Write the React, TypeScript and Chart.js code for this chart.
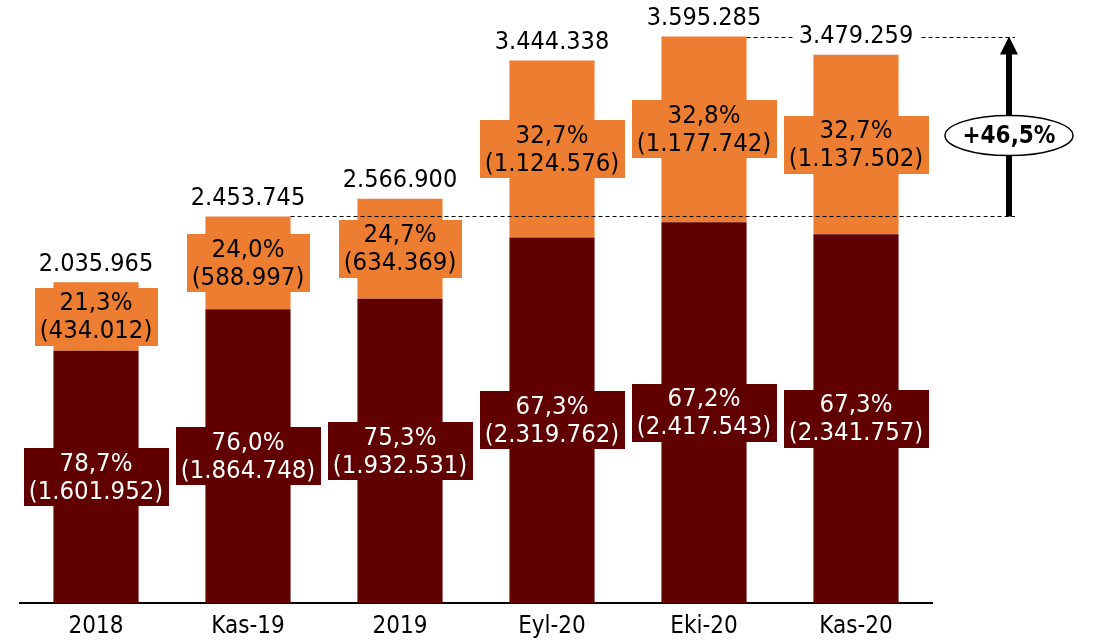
import React, { useEffect, useRef } from "react";
import { Chart, registerables } from "chart.js";

Chart.register(...registerables);

const categories = ["2018", "Kas-19", "2019", "Eyl-20", "Eki-20", "Kas-20"];
const baseValues = [1601952, 1864748, 1932531, 2319762, 2417543, 2341757];
const topValues = [434012, 588997, 634369, 1124576, 1177742, 1137502];
const totals = [2035965, 2453745, 2566900, 3444338, 3595285, 3479259];
const basePct = ["78,7%", "76,0%", "75,3%", "67,3%", "67,2%", "67,3%"];
const topPct = ["21,3%", "24,0%", "24,7%", "32,7%", "32,8%", "32,7%"];
const growthLabel = "+46,5%";
const growthFrom = 1;
const growthTo = 4;

const DARK = "#600000";
const ORANGE = "#ED7D31";
const FONT = "'DejaVu Sans Condensed', 'DejaVu Sans', sans-serif";

const fmt = (n: number) => n.toString().replace(/\B(?=(\d{3})+(?!\d))/g, ".");

const annotPlugin = {
  id: "annot",
  afterDatasetsDraw(chart: any) {
    const ctx: CanvasRenderingContext2D = chart.ctx;
    const yScale = chart.scales.y;
    const area = chart.chartArea;
    const metaBase = chart.getDatasetMeta(0);
    const metaTop = chart.getDatasetMeta(1);

    // dashed reference lines
    const arrowX = area.right + 77;
    const lineEnd = arrowX + 6;
    const yTo = yScale.getPixelForValue(totals[growthTo]);
    const yFrom = yScale.getPixelForValue(totals[growthFrom]);
    const toEl = metaTop.data[growthTo];
    const fromEl = metaTop.data[growthFrom];
    ctx.save();
    ctx.setLineDash([4, 3]);
    ctx.lineWidth = 1;
    ctx.strokeStyle = "#000";
    ctx.beginPath();
    ctx.moveTo(toEl.x + toEl.width / 2, Math.round(yTo) + 0.5);
    ctx.lineTo(lineEnd, Math.round(yTo) + 0.5);
    ctx.moveTo(fromEl.x + fromEl.width / 2, Math.round(yFrom) + 0.5);
    ctx.lineTo(lineEnd, Math.round(yFrom) + 0.5);
    ctx.stroke();
    ctx.restore();

    // segment labels
    const drawBox = (el: any, lines: string[], bg: string, fg: string) => {
      const cx = el.x;
      const cy = (el.y + el.base) / 2;
      ctx.save();
      ctx.font = `25.5px ${FONT}`;
      const w = Math.max(...lines.map((l) => ctx.measureText(l).width)) + 10;
      const lh = 28;
      const h = lh * lines.length + 2;
      ctx.fillStyle = bg;
      ctx.fillRect(Math.round(cx - w / 2), Math.round(cy - h / 2), Math.round(w), h);
      ctx.fillStyle = fg;
      ctx.textAlign = "center";
      ctx.textBaseline = "middle";
      lines.forEach((l, i) => {
        ctx.fillText(l, cx, cy - (lh * (lines.length - 1)) / 2 + i * lh + 1);
      });
      ctx.restore();
    };
    metaBase.data.forEach((el: any, i: number) => {
      drawBox(el, [basePct[i], `(${fmt(baseValues[i])})`], DARK, "#fff");
    });
    metaTop.data.forEach((el: any, i: number) => {
      drawBox(el, [topPct[i], `(${fmt(topValues[i])})`], ORANGE, "#000");
    });

    // totals
    metaTop.data.forEach((el: any, i: number) => {
      const ty = yScale.getPixelForValue(totals[i]) - 19;
      ctx.save();
      ctx.font = `25px ${FONT}`;
      const txt = fmt(totals[i]);
      const w = ctx.measureText(txt).width + 12;
      ctx.fillStyle = "#fff";
      ctx.fillRect(el.x - w / 2, ty - 14, w, 28);
      ctx.fillStyle = "#000";
      ctx.textAlign = "center";
      ctx.textBaseline = "middle";
      ctx.fillText(txt, el.x, ty + 1);
      ctx.restore();
    });

    // arrow
    ctx.save();
    ctx.strokeStyle = "#000";
    ctx.fillStyle = "#000";
    ctx.lineWidth = 6;
    ctx.beginPath();
    ctx.moveTo(arrowX, yFrom);
    ctx.lineTo(arrowX, yTo + 16);
    ctx.stroke();
    ctx.beginPath();
    ctx.moveTo(arrowX, yTo);
    ctx.lineTo(arrowX - 9, yTo + 18);
    ctx.lineTo(arrowX + 9, yTo + 18);
    ctx.closePath();
    ctx.fill();
    // ellipse
    const ey = yTo + (yFrom - yTo) * 0.55;
    ctx.beginPath();
    ctx.ellipse(arrowX, ey, 64, 20, 0, 0, Math.PI * 2);
    ctx.fillStyle = "#fff";
    ctx.fill();
    ctx.lineWidth = 1.5;
    ctx.stroke();
    ctx.fillStyle = "#000";
    ctx.font = `bold 24px ${FONT}`;
    ctx.textAlign = "center";
    ctx.textBaseline = "middle";
    ctx.fillText(growthLabel, arrowX, ey + 1);
    ctx.restore();
  },
};

export default function App() {
  const ref = useRef<HTMLCanvasElement>(null);
  useEffect(() => {
    if (!ref.current) return;
    const chart = new Chart(ref.current, {
      type: "bar",
      data: {
        labels: categories,
        datasets: [
          {
            data: baseValues,
            backgroundColor: DARK,
            barPercentage: 0.56,
            categoryPercentage: 1,
          },
          {
            data: topValues,
            backgroundColor: ORANGE,
            barPercentage: 0.56,
            categoryPercentage: 1,
          },
        ],
      },
      options: {
        animation: false,
        responsive: false,
        devicePixelRatio: 1,
        layout: { padding: { left: 20, right: 162, top: 10, bottom: 10 } },
        plugins: { legend: { display: false }, tooltip: { enabled: false } },
        scales: {
          x: {
            stacked: true,
            grid: { display: false, drawTicks: false },
            border: { display: true, color: "#000", width: 2 },
            ticks: { color: "#000", font: { family: FONT, size: 24 }, padding: 9 },
          },
          y: {
            stacked: true,
            display: false,
            min: 0,
            max: 3764000,
          },
        },
      },
      plugins: [annotPlugin],
    });
    return () => chart.destroy();
  }, []);
  return (
    <canvas
      ref={ref}
      width={1094}
      height={660}
      style={{ position: "fixed", left: 0, top: 0, display: "block" }}
    />
  );
}
